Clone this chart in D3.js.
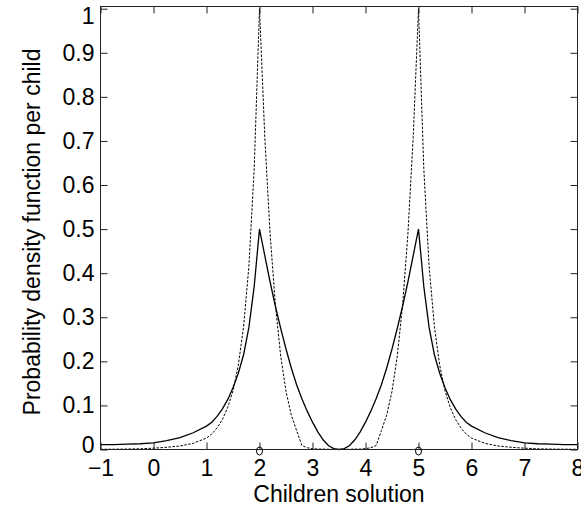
<!DOCTYPE html>
<html>
<head>
<meta charset="utf-8">
<script src="https://cdn.jsdelivr.net/npm/d3@7"></script>
<style>
  body { margin: 0; background: #fff; }
  text { font-family: "Liberation Sans", Arial, sans-serif; }
</style>
</head>
<body>
<div id="viz"></div>
<script>
(function() {

// Children solution (x) sample positions.
let xs = [
  -1, -0.75, -0.5, -0.25, 0, 0.25, 0.5, 0.75, 1, 1.1, 1.2, 1.3, 1.4, 1.5, 1.6, 1.7, 1.8, 1.9,
  2, 2.1, 2.2, 2.3, 2.4, 2.5, 2.6, 2.7, 2.8, 2.9, 3, 3.1, 3.2, 3.3, 3.4, 3.5,
  3.6, 3.7, 3.8, 3.9, 4, 4.1, 4.2, 4.3, 4.4, 4.5, 4.6, 4.7, 4.8, 4.9, 5,
  5.1, 5.2, 5.3, 5.4, 5.5, 5.6, 5.7, 5.8, 5.9, 6, 6.25, 6.5, 6.75, 7, 7.25, 7.5, 7.75, 8
];

// Solid curve.
let solidValues = [
  0.011, 0.011, 0.012, 0.013, 0.015, 0.02, 0.027, 0.038, 0.053, 0.062, 0.075, 0.092, 0.113, 0.14, 0.173, 0.215, 0.277, 0.37,
  0.5, 0.44, 0.38, 0.325, 0.275, 0.228, 0.185, 0.147, 0.115, 0.087, 0.062, 0.04, 0.022, 0.009, 0.002, 0,
  0.002, 0.009, 0.022, 0.04, 0.062, 0.087, 0.115, 0.147, 0.185, 0.228, 0.275, 0.325, 0.38, 0.44, 0.5,
  0.37, 0.277, 0.215, 0.173, 0.14, 0.113, 0.092, 0.075, 0.062, 0.053, 0.038, 0.027, 0.02, 0.015, 0.013, 0.012, 0.011, 0.011
];

// Dashed curve.
let dashedValues = [
  0.0005, 0.0007, 0.001, 0.0016, 0.003, 0.005, 0.008, 0.014, 0.026, 0.035, 0.049, 0.068, 0.095, 0.133, 0.191, 0.279, 0.416, 0.637,
  1.0, 0.708, 0.489, 0.328, 0.212, 0.132, 0.078, 0.043, 0.009, 0.004, 0.002, 0.001, 0.001, 0.0005, 0.0003, 0.0002,
  0.0003, 0.0005, 0.001, 0.001, 0.002, 0.004, 0.009, 0.043, 0.078, 0.132, 0.212, 0.328, 0.489, 0.708, 1.0,
  0.637, 0.416, 0.279, 0.191, 0.133, 0.095, 0.068, 0.049, 0.035, 0.026, 0.014, 0.008, 0.005, 0.003, 0.0016, 0.001, 0.0007, 0.0005
];

// Parent positions, marked with circles on the x axis.
let parents = [2, 5];

let xTicks = [-1, 0, 1, 2, 3, 4, 5, 6, 7, 8];
let yTicks = [0, 0.1, 0.2, 0.3, 0.4, 0.5, 0.6, 0.7, 0.8, 0.9, 1];

let xLabel = "Children solution";
let yLabel = "Probability density function per child";

let canvasWidth = 581;
let canvasHeight = 510;
let left = 100.5, right = 577.5, top = 6.5, bottom = 449.5;
let tickLen = 7;
let fontSize = 23;

let svg = d3.select("#viz").append("svg")
  .attr("width", canvasWidth)
  .attr("height", canvasHeight);

let x = d3.scaleLinear().domain([-1, 8]).range([left, right]);
let y = d3.scaleLinear().domain([0, 1.005]).range([bottom, top]);

let lineGen = (vals) => d3.line()
  .x((d, i) => x(xs[i]))
  .y((d) => y(d))(vals);

// curves
svg.append("path")
  .attr("d", lineGen(solidValues))
  .attr("fill", "none")
  .attr("stroke", "#000")
  .attr("stroke-width", 1.3);

svg.append("path")
  .attr("d", lineGen(dashedValues))
  .attr("fill", "none")
  .attr("stroke", "#000")
  .attr("stroke-width", 1)
  .attr("stroke-dasharray", "2.5,1.5");

// axes (ticks pointing inward, like a matlab box)
let fmt = d3.format("~g");

let xAxis = svg.append("g")
  .attr("transform", "translate(0," + bottom + ")")
  .call(d3.axisBottom(x).tickValues(xTicks).tickSize(-tickLen).tickPadding(10).tickFormat(fmt));

let yAxis = svg.append("g")
  .attr("transform", "translate(" + left + ",0)")
  .call(d3.axisLeft(y).tickValues(yTicks).tickSize(-tickLen).tickPadding(6).tickFormat(fmt));

svg.append("g")
  .attr("transform", "translate(0," + top + ")")
  .call(d3.axisTop(x).tickValues(xTicks).tickSize(-tickLen).tickFormat(""));

svg.append("g")
  .attr("transform", "translate(" + right + ",0)")
  .call(d3.axisRight(y).tickValues(yTicks).tickSize(-tickLen).tickFormat(""));

svg.selectAll(".domain").remove();
svg.selectAll(".tick line").attr("stroke", "#222");
svg.selectAll(".tick text")
  .attr("fill", "#000")
  .style("font-size", fontSize + "px")
  .style("font-family", "'Liberation Sans', Arial, sans-serif");

// the top "1" label sits a little lower than its tick, the "0" a little higher
yAxis.selectAll(".tick")
  .filter((d) => d === 1)
  .select("text")
  .attr("transform", "translate(0,7)");
yAxis.selectAll(".tick")
  .filter((d) => d === 0)
  .select("text")
  .attr("transform", "translate(0,-4)");

// box
svg.append("rect")
  .attr("x", left)
  .attr("y", top)
  .attr("width", right - left)
  .attr("height", bottom - top)
  .attr("fill", "none")
  .attr("stroke", "#222")
  .attr("stroke-width", 1);

// parent markers
svg.selectAll("ellipse.parent")
  .data(parents)
  .enter().append("ellipse")
  .attr("class", "parent")
  .attr("cx", (d) => x(d))
  .attr("cy", y(0) + 1.5)
  .attr("rx", 3)
  .attr("ry", 4)
  .attr("fill", "none")
  .attr("stroke", "#000")
  .attr("stroke-width", 1);

// axis titles
svg.append("text")
  .attr("x", (left + right) / 2)
  .attr("y", 502)
  .attr("text-anchor", "middle")
  .style("font-size", fontSize + "px")
  .text(xLabel);

svg.append("text")
  .attr("transform", "translate(40," + ((top + bottom) / 2 + 4) + ") rotate(-90)")
  .attr("text-anchor", "middle")
  .style("font-size", fontSize + "px")
  .text(yLabel);

})();
</script>
</body>
</html>
